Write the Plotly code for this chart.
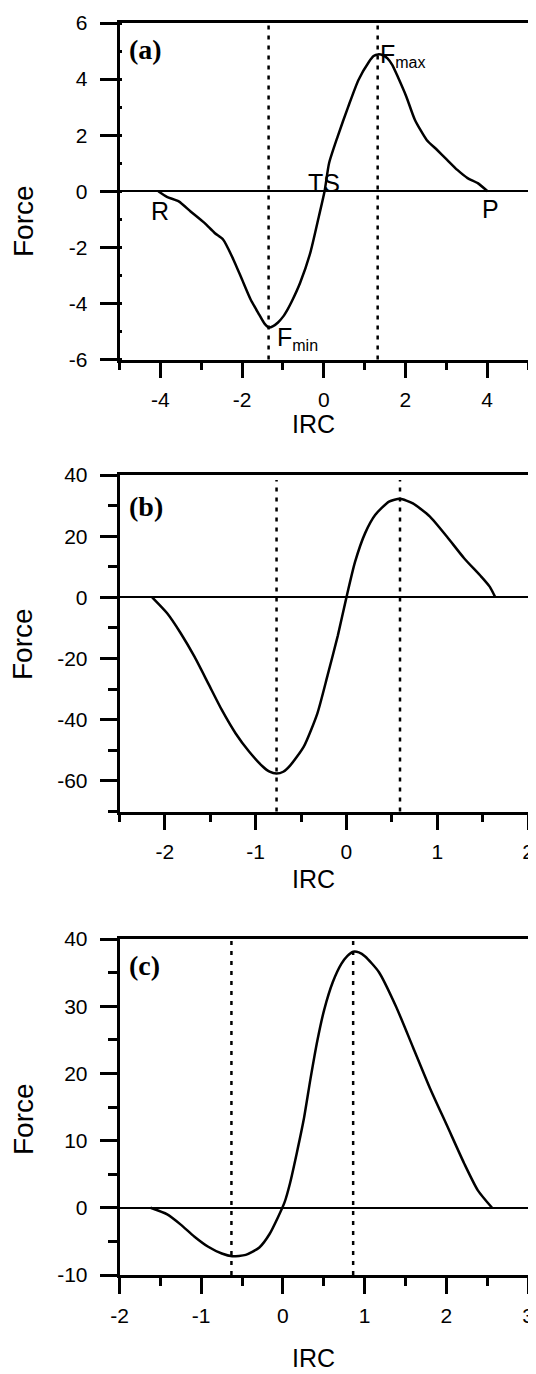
import plotly.graph_objects as go

# ---------------- data ----------------
a_x = [-4.05, -3.84, -3.55, -3.26, -2.92, -2.67, -2.46, -2.21, -2.00, -1.79, -1.58, -1.45, -1.34,
       -1.24, -1.12, -1.00, -0.88, -0.79, -0.58, -0.33, -0.12, 0.02, 0.13, 0.34, 0.60, 0.85, 1.10,
       1.22, 1.33, 1.45, 1.56, 1.68, 1.81, 2.02, 2.23, 2.52, 2.77, 3.02, 3.27, 3.52, 3.77, 4.01]
a_y = [0.0, -0.20, -0.36, -0.72, -1.13, -1.49, -1.73, -2.44, -3.15, -3.86, -4.40, -4.72, -4.86,
       -4.81, -4.68, -4.48, -4.20, -3.95, -3.27, -2.20, -0.90, 0.0, 1.00, 1.95, 3.02, 3.97, 4.60,
       4.82, 4.88, 4.85, 4.74, 4.50, 4.09, 3.38, 2.55, 1.83, 1.48, 1.12, 0.76, 0.47, 0.29, 0.0]

b_x = [-2.14, -1.975, -1.824, -1.674, -1.523, -1.373, -1.222, -1.073, -0.922, -0.847, -0.77,
       -0.696, -0.621, -0.47, -0.32, -0.208, -0.095, 0.0, 0.094, 0.206, 0.318, 0.469, 0.59,
       0.732, 0.92, 1.108, 1.296, 1.484, 1.578, 1.64]
b_y = [0.0, -5.2, -11.8, -19.4, -28.1, -36.8, -44.4, -50.4, -55.3, -57.0, -57.6,
       -57.0, -55.0, -48.8, -37.9, -25.5, -12.5, 0.0, 11.5, 21.0, 27.0, 31.3, 32.2,
       30.7, 26.4, 19.8, 12.8, 6.8, 3.5, 0.0]

c_x = [-1.62, -1.416, -1.25, -1.082, -0.914, -0.748, -0.62, -0.455, -0.288, -0.163, -0.06,
       0.02, 0.088, 0.171, 0.256, 0.339, 0.422, 0.506, 0.611, 0.715, 0.79, 0.86, 0.93, 1.007,
       1.174, 1.383, 1.592, 1.80, 2.01, 2.219, 2.386, 2.56]
c_y = [0.0, -0.98, -2.5, -4.3, -5.8, -6.8, -7.2, -7.0, -5.9, -3.9, -1.4,
       0.8, 3.7, 8.2, 13.2, 19.3, 24.9, 29.5, 33.6, 36.3, 37.5, 38.1, 38.0, 37.4,
       35.1, 30.0, 23.9, 17.8, 12.2, 6.6, 2.6, 0.0]

fmin_x = [-1.35, -0.77, -0.63]
fmax_x = [1.32, 0.59, 0.86]

panel_labels = ["(a)", "(b)", "(c)"]
x_ranges = [[-5, 5], [-2.5, 2], [-2, 3]]
x_tickvals = [[-4, -2, 0, 2, 4], [-2, -1, 0, 1, 2], [-2, -1, 0, 1, 2, 3]]
x_ticktext = [["-4", "-2", "0", "2", "4"], ["-2", "-1", "0", "1", "2"],
              ["-2", "-1", "0", "1", "2", "3"]]
x_minor = [1, 0.5, 0.5]
y_ranges = [[-6, 6], [-70, 40], [-10, 40]]
y_tickvals = [[-6, -4, -2, 0, 2, 4, 6], [-60, -40, -20, 0, 20, 40], [-10, 0, 10, 20, 30, 40]]
y_ticktext = [["-6", "-4", "-2", "0", "2", "4", "6"], ["-60", "-40", "-20", "0", "20", "40"],
              ["-10", "0", "10", "20", "30", "40"]]
y_minor = [1, 10, 5]
y_minor_side = ["inside", "outside", "outside"]

# ---------------- layout geometry ----------------
# the page body has an 8px default margin, so figure px = page px - 8
OFF = 8
W, H = 536 - OFF, 1374 - OFF


def px_x(p):
    return (p - OFF) / W


def px_y(p):
    return 1 - (p - OFF) / H


x_dom = [px_x(119.5), px_x(528)]
panels_px = [(23, 359.5), (475, 811.5), (939, 1275)]
y_doms = [[px_y(b), px_y(t)] for t, b in panels_px]

FONT = "Liberation Sans, Arial, sans-serif"
SERIF = "Liberation Serif, Times New Roman, serif"

fig = go.Figure()
data = [(a_x, a_y), (b_x, b_y), (c_x, c_y)]
for i, (xs, ys) in enumerate(data):
    sfx = "" if i == 0 else str(i + 1)
    fig.add_trace(go.Scatter(x=xs, y=ys, mode="lines", xaxis="x" + sfx, yaxis="y" + sfx,
                             line=dict(color="black", width=2.5, shape="spline", smoothing=0.6),
                             showlegend=False, hoverinfo="skip"))

shapes = []
annotations = []
for i in range(3):
    sfx = "" if i == 0 else str(i + 1)
    xa = dict(domain=x_dom, anchor="y" + sfx, range=x_ranges[i],
              tickmode="array", tickvals=x_tickvals[i], ticktext=x_ticktext[i],
              ticks="outside", ticklen=16, tickwidth=2.5, tickcolor="black",
              minor=dict(tickmode="linear", dtick=x_minor[i], tick0=0, ticks="outside", ticklen=8,
                         tickwidth=2.5, tickcolor="black", showgrid=False),
              showline=True, linewidth=2.5, linecolor="black", mirror=True,
              showgrid=False, zeroline=False, automargin=False,
              ticklabeloverflow="allow", ticklabelstandoff=4,
              tickfont=dict(family=FONT, size=21, color="black"))
    ya = dict(domain=y_doms[i], anchor="x" + sfx, range=y_ranges[i],
              tickmode="array", tickvals=y_tickvals[i], ticktext=y_ticktext[i],
              ticks="outside", ticklen=17, tickwidth=2.5, tickcolor="black",
              minor=dict(tickmode="linear", dtick=y_minor[i], tick0=0, ticks=y_minor_side[i],
                         ticklen=3 if y_minor_side[i] == "inside" else 9, tickwidth=2.5,
                         tickcolor="black", showgrid=False),
              showline=True, linewidth=2.5, linecolor="black", mirror=True,
              showgrid=False, zeroline=True, zerolinecolor="black", zerolinewidth=2,
              automargin=False, ticklabeloverflow="allow", ticklabelstandoff=8,
              tickfont=dict(family=FONT, size=21, color="black"))
    fig.layout["xaxis" + sfx] = xa
    fig.layout["yaxis" + sfx] = ya

    for v in (fmin_x[i], fmax_x[i]):
        shapes.append(dict(type="line", xref="x" + sfx, yref="y" + sfx + " domain",
                           x0=v, x1=v, y0=0, y1=1 if i != 1 else 0.985,
                           line=dict(color="black", width=2.5, dash="4px,6px")))

    annotations.append(dict(xref="x" + sfx + " domain", yref="y" + sfx + " domain",
                            x=0.018, y=[0.92, 0.906, 0.921][i], xanchor="left", yanchor="middle",
                            text="<b>" + panel_labels[i] + "</b>", showarrow=False,
                            font=dict(family=SERIF, size=28, color="black")))

# axis titles as annotations
force_y = [221, 644, 1119]
irc_y = [424, 879, 1358]
for i in range(3):
    annotations.append(dict(xref="paper", yref="paper", x=px_x(23), y=px_y(force_y[i]),
                            text="Force", textangle=-90, showarrow=False,
                            xanchor="center", yanchor="middle",
                            font=dict(family=FONT, size=28, color="black")))
    annotations.append(dict(xref="paper", yref="paper", x=px_x(313), y=px_y(irc_y[i]),
                            text="IRC", showarrow=False, xanchor="center", yanchor="middle",
                            font=dict(family=FONT, size=25, color="black")))

# point labels in panel (a)
lab_font = dict(family=FONT, size=25, color="black")
annotations += [
    dict(xref="x", yref="y", x=-4.0, y=-0.7, text="R", showarrow=False, font=lab_font),
    dict(xref="x", yref="y", x=4.08, y=-0.64, text="P", showarrow=False, font=lab_font),
    dict(xref="x", yref="y", x=0.0, y=0.3, text="TS", showarrow=False, font=lab_font),
    dict(xref="x", yref="y", x=1.33, y=4.85, xanchor="left", yanchor="middle", showarrow=False,
         text="F<sub><span style='font-size:16px'>max</span></sub>", font=lab_font),
    dict(xref="x", yref="y", x=-1.2, y=-5.25, xanchor="left", yanchor="middle", showarrow=False,
         text="F<sub><span style='font-size:16px'>min</span></sub>", font=lab_font),
]

fig.update_layout(template="none", width=W, height=H,
                  margin=dict(l=0, r=0, t=0, b=0, autoexpand=False),
                  paper_bgcolor="white", plot_bgcolor="white",
                  shapes=shapes, annotations=annotations, showlegend=False)

fig.write_html("out.html")
